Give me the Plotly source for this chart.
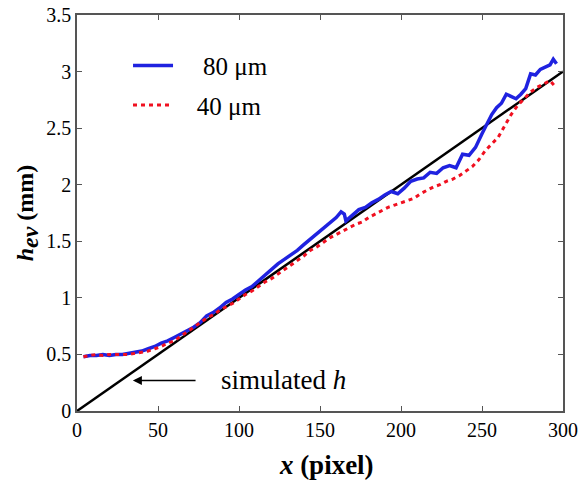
import plotly.graph_objects as go

# ---- data ----
sim_x = [0, 300]
sim_h = [0.0, 3.0]

x80 = [4, 8, 12, 16, 20, 24, 28, 32, 36, 40, 44, 48, 52, 56, 60, 64, 68, 72, 76, 80,
       84, 88, 92, 96, 100, 104, 108, 112, 116, 120, 124, 128, 132, 136, 140, 144, 148,
       152, 156, 160, 163, 165, 166, 170, 174, 178, 182, 186, 190, 194, 198, 202, 206,
       210, 214, 218, 222, 226, 230, 234, 238, 242, 246, 250, 253, 256, 259, 262, 265,
       268, 271, 274, 277, 280, 283, 286, 289, 292, 294, 296]
h80 = [0.48, 0.49, 0.49, 0.50, 0.49, 0.50, 0.50, 0.51, 0.52, 0.53, 0.55, 0.57, 0.60,
       0.62, 0.65, 0.68, 0.71, 0.74, 0.78, 0.84, 0.87, 0.91, 0.96, 0.99, 1.03, 1.07,
       1.10, 1.15, 1.21, 1.25, 1.30, 1.34, 1.38, 1.42, 1.47, 1.52, 1.57, 1.62, 1.66,
       1.71, 1.76, 1.74, 1.68, 1.73, 1.78, 1.80, 1.84, 1.87, 1.91, 1.94, 1.92, 1.97,
       2.03, 2.05, 2.06, 2.11, 2.10, 2.15, 2.17, 2.15, 2.27, 2.26, 2.33, 2.45, 2.54,
       2.62, 2.68, 2.72, 2.80, 2.78, 2.76, 2.80, 2.85, 2.98, 2.97, 3.02, 3.04, 3.06,
       3.11, 3.07]

x40 = [4, 8, 12, 16, 20, 24, 28, 32, 36, 40, 44, 48, 52, 56, 60, 64, 68, 72, 76, 80,
       84, 88, 92, 96, 100, 104, 108, 112, 116, 120, 124, 128, 132, 136, 140, 144, 148,
       152, 156, 160, 164, 168, 172, 176, 180, 184, 188, 192, 196, 200, 204, 208, 212,
       216, 220, 224, 228, 232, 236, 240, 244, 248, 252, 256, 260, 264, 268, 272, 276,
       280, 284, 288, 292, 295]
h40 = [0.48, 0.49, 0.50, 0.49, 0.50, 0.50, 0.50, 0.50, 0.51, 0.52, 0.53, 0.55, 0.57,
       0.60, 0.62, 0.66, 0.70, 0.74, 0.78, 0.82, 0.85, 0.89, 0.92, 0.95, 0.99, 1.03,
       1.06, 1.10, 1.14, 1.17, 1.21, 1.25, 1.29, 1.33, 1.37, 1.42, 1.45, 1.49, 1.53,
       1.56, 1.59, 1.62, 1.65, 1.67, 1.71, 1.74, 1.77, 1.80, 1.82, 1.84, 1.86, 1.88,
       1.92, 1.95, 1.98, 2.00, 2.03, 2.05, 2.08, 2.12, 2.16, 2.22, 2.30, 2.36, 2.42,
       2.52, 2.62, 2.70, 2.76, 2.82, 2.86, 2.89, 2.92, 2.87]

x_ticks = [0, 50, 100, 150, 200, 250, 300]
y_ticks = [0, 0.5, 1, 1.5, 2, 2.5, 3, 3.5]
y_tick_text = ["0", "0.5", "1", "1.5", "2", "2.5", "3", "3.5"]

SERIF = "Liberation Serif"

fig = go.Figure()
fig.add_trace(go.Scatter(x=sim_x, y=sim_h, mode="lines", showlegend=False,
                         line=dict(color="black", width=2.5)))
fig.add_trace(go.Scatter(x=x80, y=h80, mode="lines", name="    80 μm", legendgroup="a",
                         line=dict(color="#1f22e0", width=3.5)))
fig.add_trace(go.Scatter(x=x40, y=h40, mode="lines", name="   40 μm", legendgroup="b",
                         line=dict(color="#f01020", width=3, dash="4px,4px")))

# label with arrow pointing left to the simulated line
fig.add_annotation(x=34.5, y=0.27, ax=127.5, ay=0.27, xref="x", yref="y",
                   axref="x", ayref="y", text="simulated <i>h</i>", showarrow=True,
                   arrowhead=2, arrowsize=1.2, arrowwidth=1.5, arrowcolor="black",
                   borderpad=25,
                   font=dict(family=SERIF, size=27, color="black"))

axis_common = dict(showline=True, linecolor="#555555", linewidth=1.5, mirror="ticks",
                   ticks="inside", ticklen=5, tickcolor="#555555", showgrid=False,
                   zeroline=False, automargin=False,
                   tickfont=dict(family=SERIF, size=20, color="black"))

fig.update_xaxes(range=[0, 300], tickvals=x_ticks,
                 title=dict(text="<b>  <i>x</i> (pixel)</b>", standoff=15,
                            font=dict(family=SERIF, size=27, color="black")),
                 **axis_common)
fig.update_yaxes(range=[0, 3.5], tickvals=y_ticks, ticktext=y_tick_text,
                 title=dict(text="<b><i>h</i><sub><span style='font-size:24px'><i>ev</i></span></sub> (mm)</b>",
                            standoff=6,
                            font=dict(family=SERIF, size=24, color="black")),
                 **axis_common)

fig.update_layout(
    width=578, height=495,
    margin=dict(l=77, r=15, t=15, b=84),
    paper_bgcolor="white", plot_bgcolor="white",
    legend=dict(x=0.105, y=0.93, xanchor="left", yanchor="top",
                bgcolor="rgba(0,0,0,0)", itemwidth=40, tracegroupgap=4,
                traceorder="grouped",
                font=dict(family=SERIF, size=25, color="black")),
)

fig.write_html("out.html", config={"displayModeBar": False},
               post_script="document.body.style.margin='0';")
